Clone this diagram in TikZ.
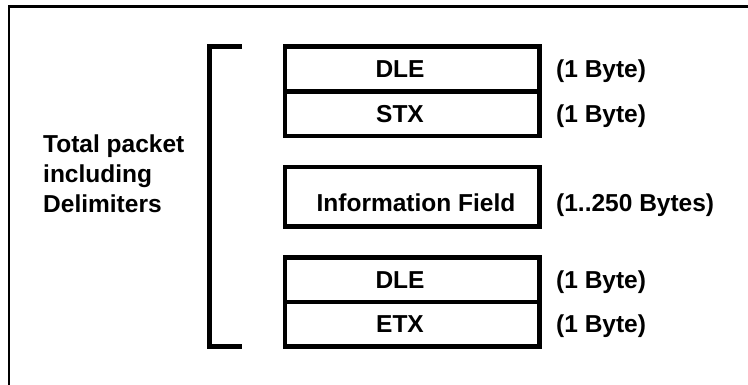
\documentclass[tikz,border=0pt]{standalone}
\usepackage{fontspec}
\setmainfont{Liberation Sans}
\begin{document}
\begin{tikzpicture}[x=1pt,y=-1pt,
  field/.style={draw,line width=4.5pt,inner sep=0pt,minimum width=254.5pt},
  txt/.style={font=\bfseries\fontsize{24.5}{30}\selectfont,inner sep=0pt,anchor=base},
  size/.style={txt,anchor=base west}]
\useasboundingbox (0,0) rectangle (748,385);
\clip (0,0) rectangle (748,385);
% outer frame (left and top edges)
\coordinate (fbl) at (9,400);
\coordinate (ftl) at (9,6.5);
\coordinate (ftr) at (760,6.5);
\draw[line width=2.5pt] (fbl) -- (ftl) -- (ftr);

% bracket around the whole packet
\coordinate (btop) at (242,46.5);
\coordinate (bbot) at (242,346.5);
\draw[line width=4.5pt] (btop) -- (209.5,46.5) -- (209.5,346.5) -- (bbot);

% packet fields
\node[field,minimum height=45pt]   (dle1) at (412.25,69)     {};
\node[field,minimum height=44.5pt] (stx)  at (412.25,113.75) {};
\node[field,minimum height=59.5pt] (info) at (412.25,196.75) {};
\node[field,minimum height=44.5pt] (dle2) at (412.25,279.75) {};
\node[field,minimum height=44.5pt] (etx)  at (412.25,324.25) {};

\node[txt] (tdle1) at (400,78)    {DLE};
\node[txt] (tstx)  at (400,122.5) {STX};
\node[txt] (tinfo) at (416,212)   {Information Field};
\node[txt] (tdle2) at (400,288)   {DLE};
\node[txt] (tetx)  at (400,332.5) {ETX};

% field sizes
\node[size] (sdle1) at (556,78)    {(1 Byte)};
\node[size] (sstx)  at (556,122.5) {(1 Byte)};
\node[size] (sinfo) at (556,212)   {(1..250 Bytes)};
\node[size] (sdle2) at (556,288)   {(1 Byte)};
\node[size] (setx)  at (556,332.5) {(1 Byte)};

% caption on the left (base anchor sits on the last line)
\node[txt,anchor=base west,align=left] (total) at (43,213)
  {Total packet\\including\\Delimiters};
\end{tikzpicture}
\end{document}
